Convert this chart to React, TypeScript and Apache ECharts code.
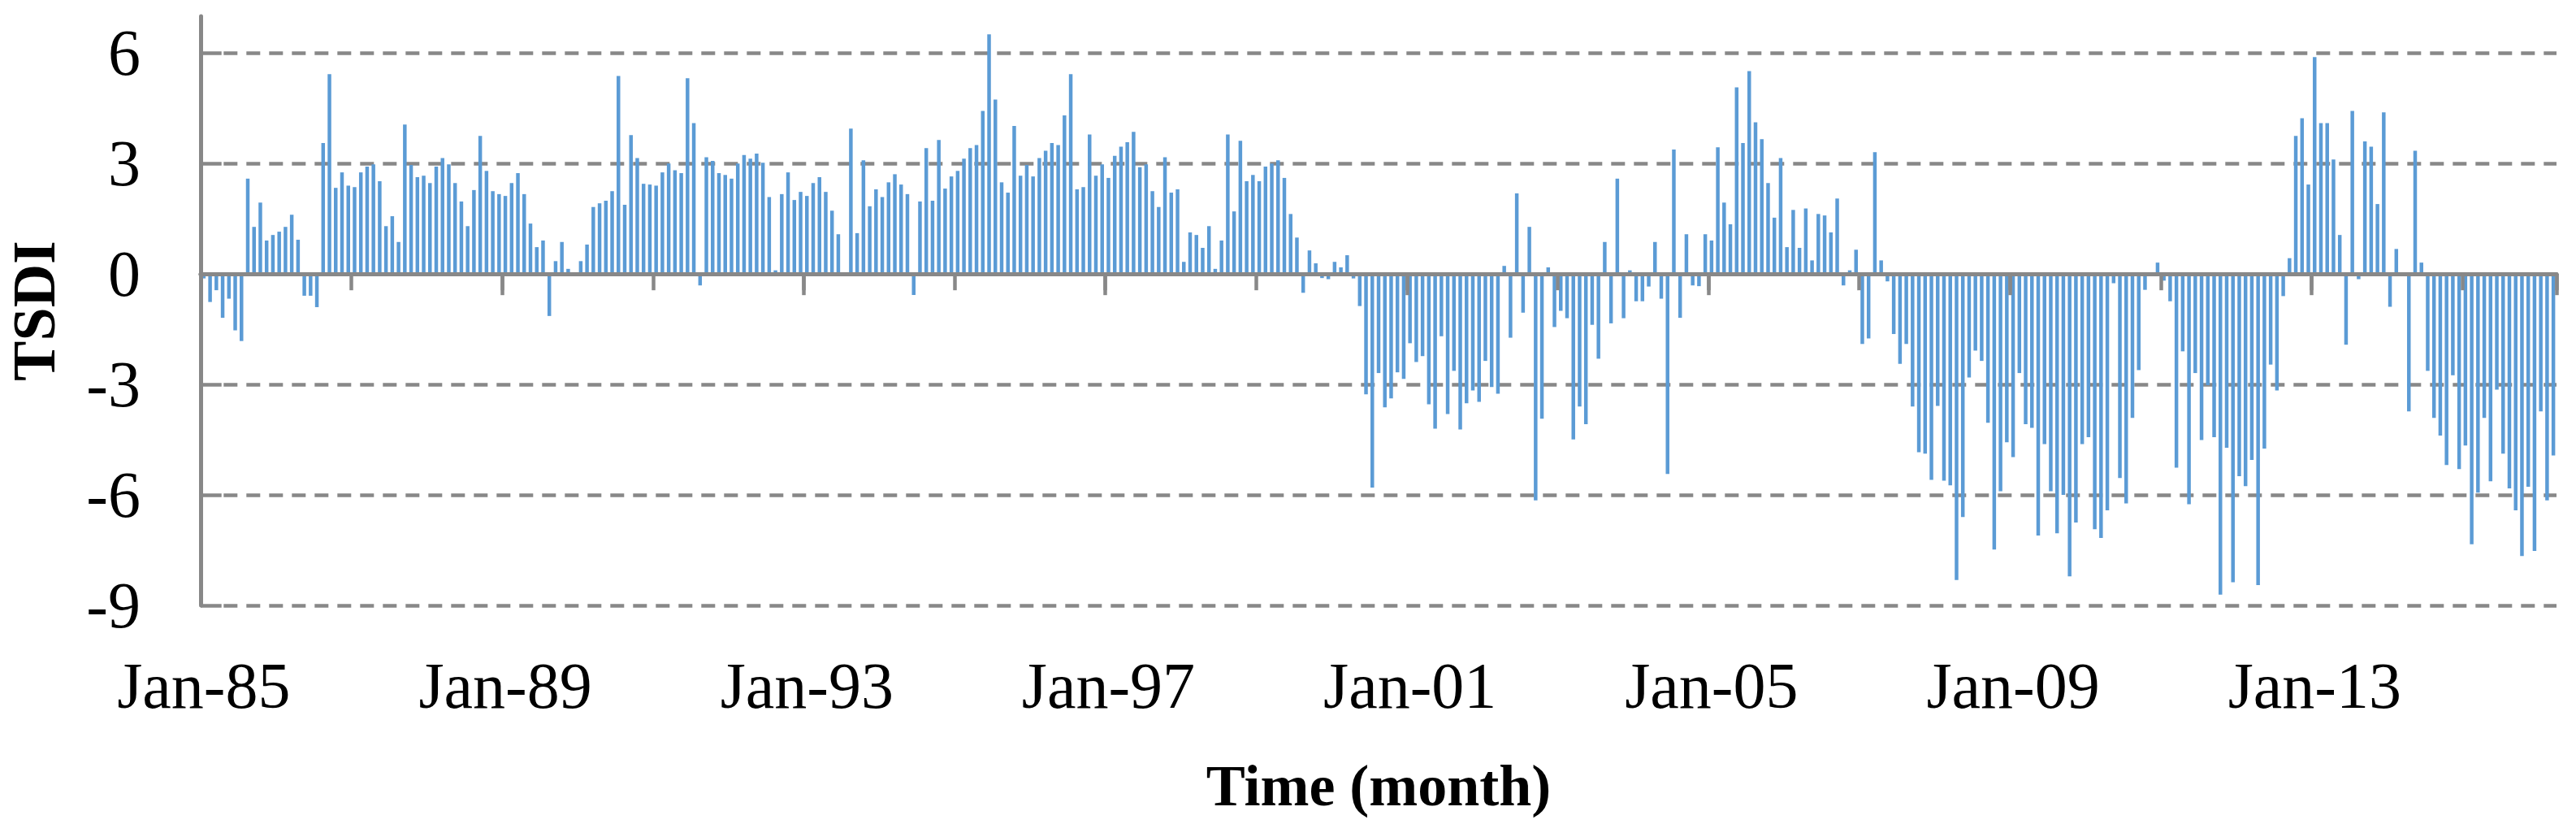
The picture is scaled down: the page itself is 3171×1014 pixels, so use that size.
import React, { useEffect, useRef } from "react";
import * as echarts from "echarts";

// ---------- DATA ----------
const MONTH_NAMES = ["Jan", "Feb", "Mar", "Apr", "May", "Jun", "Jul", "Aug", "Sep", "Oct", "Nov", "Dec"];
const FIRST_YEAR = 1985;

const tsdi1985to1988 = [
  -0.12, -0.76, -0.44, -1.19, -0.67, -1.53, -1.82, 2.59, 1.28, 1.94, 0.91, 1.06,
  1.15, 1.28, 1.61, 0.93, -0.59, -0.59, -0.9, 3.56, 5.43, 2.34, 2.76, 2.4,
  2.36, 2.76, 2.92, 2.98, 2.52, 1.3, 1.57, 0.87, 4.06, 2.96, 2.63, 2.67,
  2.47, 2.92, 3.15, 2.98, 2.47, 1.97, 1.3, 2.28, 3.75, 2.8, 2.25, 2.17,
];
const tsdi1989to1992 = [
  2.12, 2.47, 2.74, 2.17, 1.37, 0.73, 0.91, -1.14, 0.35, 0.87, 0.14, 0,
  0.35, 0.8, 1.82, 1.92, 1.99, 2.25, 5.38, 1.88, 3.77, 3.15, 2.45, 2.43,
  2.4, 2.76, 3.0, 2.82, 2.74, 5.32, 4.1, -0.31, 3.17, 3.07, 2.74, 2.69,
  2.59, 3.0, 3.23, 3.13, 3.27, 3.02, 2.09, 0.1, 2.17, 2.76, 2.01, 2.23,
];
const tsdi1993to1996 = [
  2.12, 2.47, 2.63, 2.23, 1.72, 1.08, 0, 3.95, 1.11, 3.09, 1.84, 2.3,
  2.09, 2.49, 2.71, 2.43, 2.17, -0.57, 1.97, 3.42, 1.99, 3.64, 2.32, 2.65,
  2.8, 3.13, 3.42, 3.5, 4.43, 6.51, 4.74, 2.49, 2.21, 4.02, 2.67, 2.96,
  2.65, 3.15, 3.35, 3.56, 3.5, 4.31, 5.43, 2.3, 2.36, 3.79, 2.67, 2.98,
];
const tsdi1997to2000 = [
  2.61, 3.21, 3.46, 3.58, 3.86, 2.9, 2.98, 2.25, 1.82, 3.17, 2.21, 2.3,
  0.33, 1.13, 1.06, 0.71, 1.3, 0.14, 0.91, 3.79, 1.7, 3.62, 2.52, 2.69,
  2.52, 2.92, 3.0, 3.09, 2.61, 1.63, 0.99, -0.51, 0.64, 0.29, -0.11, -0.14,
  0.33, 0.18, 0.51, -0.12, -0.87, -3.27, -5.8, -2.69, -3.62, -3.38, -2.67, -2.85,
];
const tsdi2001to2004 = [
  -1.88, -2.39, -2.23, -3.54, -4.2, -1.69, -3.8, -2.63, -4.22, -3.51, -3.16, -3.47,
  -2.36, -3.07, -3.25, 0.22, -1.73, 2.19, -1.05, 1.28, -6.15, -3.93, 0.18, -1.44,
  -1.0, -1.2, -4.49, -3.6, -4.08, -1.38, -2.3, 0.87, -1.34, 2.59, -1.2, 0.1,
  -0.74, -0.74, -0.34, 0.87, -0.67, -5.43, 3.38, -1.19, 1.08, -0.31, -0.33, 1.08,
];
const tsdi2005to2008 = [
  0.91, 3.44, 1.94, 1.35, 5.07, 3.56, 5.51, 4.12, 3.66, 2.47, 1.53, 3.15,
  0.73, 1.74, 0.71, 1.78, 0.37, 1.63, 1.59, 1.13, 2.05, -0.31, 0.1, 0.66,
  -1.9, -1.75, 3.31, 0.37, -0.2, -1.63, -2.44, -1.9, -3.6, -4.84, -4.88, -5.59,
  -3.58, -5.61, -5.74, -8.31, -6.6, -2.81, -2.08, -2.36, -4.04, -7.48, -5.9, -4.57,
];
const tsdi2009to2012 = [
  -4.97, -2.69, -4.08, -4.18, -7.1, -4.62, -5.9, -7.04, -6.0, -8.21, -6.75, -4.62,
  -4.43, -6.93, -7.17, -6.42, -0.25, -5.54, -6.23, -3.91, -2.61, -0.43, 0, 0.31,
  -0.18, -0.74, -5.26, -2.1, -6.25, -2.69, -4.51, -3.02, -4.43, -8.71, -4.72, -8.37,
  -5.49, -5.76, -5.05, -8.45, -4.74, -2.46, -3.16, -0.6, 0.43, 3.75, 4.23, 2.43,
];
const tsdi2013to2016 = [
  5.89, 4.1, 4.1, 3.11, 1.06, -1.92, 4.43, -0.14, 3.6, 3.46, 1.9, 4.39,
  -0.89, 0.68, 0, -3.73, 3.35, 0.31, -2.63, -3.91, -4.39, -5.19, -2.75, -5.3,
  -4.66, -7.34, -5.94, -3.91, -5.63, -3.14, -4.88, -5.82, -6.42, -7.66, -5.78, -7.52,
  -3.73, -6.15, -4.93,
];

const tsdi = [
  ...tsdi1985to1988,
  ...tsdi1989to1992,
  ...tsdi1993to1996,
  ...tsdi1997to2000,
  ...tsdi2001to2004,
  ...tsdi2005to2008,
  ...tsdi2009to2012,
  ...tsdi2013to2016,
];

const months = tsdi.map((_, i) => {
  const yr = (FIRST_YEAR + Math.floor(i / 12)) % 100;
  return `${MONTH_NAMES[i % 12]}-${String(yr).padStart(2, "0")}`;
});

const yTicks = { min: -9, max: 7, interval: 3 };

// ---------- STYLE ----------
const GRAY = "#888888";
const BLUE = "#5B9BD5";
const SERIF = "'Liberation Serif', 'Times New Roman', serif";

// dashed gridline with an inside tick at the axis: long first dash then 17/11 pattern
const gridDash: number[] = [25.7, 2.6];
for (let k = 0; k < 110; k++) gridDash.push(17, 11);

export default function App() {
  const ref = useRef<HTMLDivElement>(null);

  useEffect(() => {
    if (!ref.current) return;
    const chart = echarts.init(ref.current, undefined, { renderer: "svg" });
    chart.setOption({
      animation: false,
      backgroundColor: "#ffffff",
      grid: {
        left: 247,
        right: 24,
        top: 20,
        bottom: 269,
        containLabel: false,
        outerBoundsMode: "none",
      },
      xAxis: [
        {
          type: "category",
          data: months,
          position: "bottom",
          axisLine: { show: false, onZero: false },
          axisTick: { show: false },
          splitLine: { show: false },
          axisLabel: {
            interval: 47,
            margin: 59,
            fontFamily: SERIF,
            fontSize: 80,
            color: "#000",
          },
          name: "Time (month)",
          nameLocation: "middle",
          nameGap: 186,
          nameTextStyle: { fontFamily: SERIF, fontSize: 72, fontWeight: "bold", color: "#000" },
        },
        {
          type: "category",
          data: months,
          position: "bottom",
          z: 3,
          axisLine: { show: true, onZero: true, onZeroAxisIndex: 0, lineStyle: { color: GRAY, width: 5 } },
          axisTick: { show: true, interval: 47, length: 26, lineStyle: { color: GRAY, width: 4.5 } },
          axisLabel: { show: false },
          splitLine: { show: false },
        },
        {
          type: "category",
          data: months,
          position: "bottom",
          z: 3,
          axisLine: { show: true, onZero: true, onZeroAxisIndex: 0, lineStyle: { color: GRAY, width: 5 } },
          axisTick: { show: true, interval: 23, length: 20, lineStyle: { color: GRAY, width: 4.5 } },
          axisLabel: { show: false },
          splitLine: { show: false },
        },
      ],
      yAxis: {
        type: "value",
        min: yTicks.min,
        max: yTicks.max,
        interval: yTicks.interval,
        axisLine: { show: true, lineStyle: { color: GRAY, width: 5 } },
        axisTick: { show: false },
        axisLabel: {
          showMaxLabel: false,
          margin: 74,
          fontFamily: SERIF,
          fontSize: 80,
          color: "#000",
        },
        splitLine: {
          show: true,
          showMaxLine: false,
          lineStyle: { color: GRAY, width: 4.5, type: gridDash },
        },
        name: "TSDI",
        nameLocation: "middle",
        nameGap: 168,
        nameTextStyle: { fontFamily: SERIF, fontSize: 74, fontWeight: "bold", color: "#000" },
      },
      series: [
        {
          type: "bar",
          name: "TSDI",
          data: tsdi,
          xAxisIndex: 0,
          yAxisIndex: 0,
          barWidth: "58%",
          itemStyle: { color: BLUE },
        },
      ],
    });
    return () => chart.dispose();
  }, []);

  return (
    <div
      ref={ref}
      style={{ position: "fixed", left: 0, top: 0, width: 3171, height: 1014, background: "#fff" }}
    />
  );
}
